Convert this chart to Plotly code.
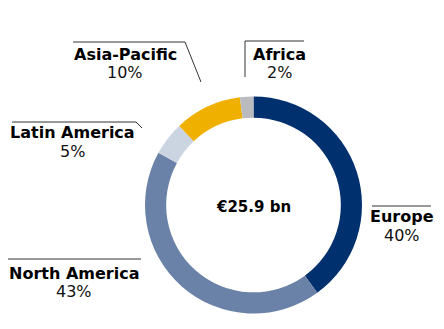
import plotly.graph_objects as go

regions = ["Europe", "North America", "Latin America", "Asia-Pacific", "Africa"]
shares = [40, 43, 5, 10, 2]
colors = ["#00306E", "#6A82A8", "#CBD4E1", "#F0B000", "#B9BBBE"]
total_label = "€25.9 bn"

W, H = 444, 329
cx, cy, r = 253.5, 205, 108.5

def px(x):
    return x / W

def py(y):
    return 1 - y / H

fig = go.Figure(go.Pie(
    labels=regions, values=shares, sort=False, direction="clockwise", rotation=0,
    hole=0.805, marker=dict(colors=colors, line=dict(width=0)),
    textinfo="none", hoverinfo="label+percent", showlegend=False,
    domain=dict(x=[px(cx - r), px(cx + r)], y=[py(cy + r), py(cy - r)]),
))

FONT = "DejaVu Sans, Verdana, sans-serif"
label_pos = {
    "Europe": (402, 217, 235),
    "North America": (74, 273, 291),
    "Latin America": (72, 132.5, 151),
    "Asia-Pacific": (125, 55, 72.5),
    "Africa": (279, 55, 72.5),
}
lines = {
    "Europe": [(372, 206), (431, 206)],
    "North America": [(8, 259), (141, 259)],
    "Latin America": [(12, 122), (136, 122), (142, 128)],
    "Asia-Pacific": [(73, 42), (185, 42), (201, 82)],
    "Africa": [(304, 41), (245, 41), (245, 77)],
}

annotations = []
shapes = []
for name, val in zip(regions, shares):
    x, y1, y2 = label_pos[name]
    annotations.append(dict(x=px(x), y=py(y1), xref="paper", yref="paper", showarrow=False,
                            text=f"<b>{name}</b>", font=dict(family=FONT, size=16, color="#000"),
                            xanchor="center", yanchor="middle", borderpad=0))
    annotations.append(dict(x=px(x), y=py(y2), xref="paper", yref="paper", showarrow=False,
                            text=f"{val}%", font=dict(family=FONT, size=16, color="#111"),
                            xanchor="center", yanchor="middle", borderpad=0))
    pts = lines[name]
    path = "M " + " L ".join(f"{px(a)},{py(b)}" for a, b in pts)
    shapes.append(dict(type="path", xref="paper", yref="paper", path=path,
                       line=dict(color="#333", width=1)))

annotations.append(dict(x=px(cx), y=py(207), xref="paper", yref="paper", showarrow=False,
                        text=f"<b>{total_label}</b>", font=dict(family=FONT, size=15, color="#000"),
                        xanchor="center", yanchor="middle"))

fig.update_layout(width=W, height=H, margin=dict(l=0, r=0, t=0, b=0),
                  paper_bgcolor="white", plot_bgcolor="white",
                  annotations=annotations, shapes=shapes)
fig.write_html("out.html")
